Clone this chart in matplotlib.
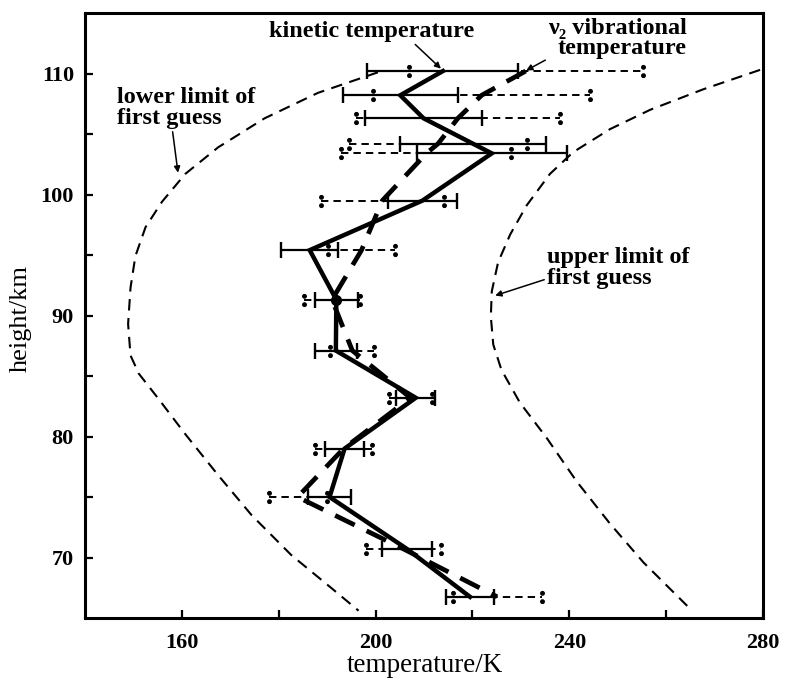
import matplotlib
matplotlib.use("Agg")
import matplotlib.pyplot as plt
from matplotlib.path import Path
import numpy as np

# ---------------- data ----------------
# kinetic temperature profile (height km, temperature K) with error half-widths
kin_h = [110.2, 108.2, 106.3, 104.2, 103.4, 99.5, 95.4, 91.3, 87.1, 83.2, 79.0, 75.0, 70.7, 66.75]
kin_T = [213.9, 205.1, 209.9, 220.1, 224.0, 209.7, 186.4, 191.9, 191.8, 208.3, 193.6, 190.5, 206.5, 219.5]
kin_err = [15.6, 11.85, 12.05, 15.15, 15.5, 7.1, 5.85, 4.45, 4.3, 4.0, 4.0, 4.5, 5.1, 5.0]

# nu2 vibrational temperature profile with error half-widths
vib_h = [110.2, 108.2, 106.3, 104.2, 103.4, 99.5, 95.4, 91.3, 87.1, 83.2, 79.0, 75.0, 70.7, 66.75]
vib_T = [231.0, 221.9, 217.0, 212.9, 210.5, 201.4, 197.1, 191.0, 195.2, 207.2, 193.4, 183.9, 205.8, 225.1]
vib_err = [24.15, 22.4, 21.0, 18.3, 17.55, 12.7, 6.9, 5.85, 4.55, 4.35, 5.85, 6.0, 7.8, 9.2]

# lower limit of first guess
low_h = [110.1, 108.4, 106.3, 103.9, 101.7, 99.4, 97.3, 94.9, 92.3, 89.3, 86.7, 85.2,
         83.1, 80.2, 76.8, 73.5, 70.2, 67.5, 65.6]
low_T = [200.5, 188.1, 177.1, 167.5, 160.7, 155.9, 152.5, 150.4, 149.4, 148.9, 149.4, 151.1,
         155.2, 160.7, 167.5, 174.4, 182.6, 190.8, 196.5]

# upper limit of first guess
up_h = [110.3, 108.7, 107.0, 105.4, 103.5, 101.7, 99.1, 96.7, 94.4, 92.0, 89.9, 87.6,
        85.5, 82.8, 79.9, 76.3, 72.8, 69.6, 65.9]
up_T = [279.4, 267.7, 256.7, 248.4, 240.8, 236.0, 231.2, 227.8, 225.3, 224.0, 223.8, 224.3,
        226.0, 229.8, 235.3, 241.5, 248.4, 255.3, 264.6]

x_major = [160, 200, 240, 280]
x_minor = [180, 220, 260]
y_major = [70, 80, 90, 100, 110]
y_minor = [75, 85, 95, 105]

# ---------------- figure ----------------
SERIF = ["Liberation Serif", "DejaVu Serif"]
plt.rcParams["font.family"] = SERIF

fig = plt.figure(figsize=(7.88, 6.81), dpi=100)
ax = fig.add_axes([85 / 788, 1 - 618 / 681, 678 / 788, 605 / 681])
ax.set_xlim(140, 280)
ax.set_ylim(65, 115)

# colon-shaped marker (two dots)
colon = Path.make_compound_path(Path.circle((0, 1.0), 0.42), Path.circle((0, -1.0), 0.42))

kin_h = np.array(kin_h); kin_T = np.array(kin_T); kin_err = np.array(kin_err)
vib_h = np.array(vib_h); vib_T = np.array(vib_T); vib_err = np.array(vib_err)

# first-guess limit curves
l1, = ax.plot(low_T, low_h, color="black", lw=1.5, zorder=2)
l1.set_dashes((5.5, 3.6))
l2, = ax.plot(up_T, up_h, color="black", lw=1.5, zorder=2)
l2.set_dashes((5.5, 3.6))

# vibrational error bars: dashed with colon ends
for h, t, e in zip(vib_h, vib_T, vib_err):
    ln, = ax.plot([t - e, t + e], [h, h], color="black", lw=1.4, zorder=3)
    ln.set_dashes((3.8, 2.6))
ax.plot(np.concatenate([vib_T - vib_err, vib_T + vib_err]),
        np.concatenate([vib_h, vib_h]), linestyle="none", marker=colon,
        markersize=8.5, color="black", zorder=3)

# kinetic error bars: solid with caps
ax.errorbar(kin_T, kin_h, xerr=kin_err, fmt="none", ecolor="black",
            elinewidth=1.6, capsize=5.5, capthick=1.7, zorder=4)

# profiles
ax.plot(kin_T, kin_h, color="black", lw=3.2, solid_joinstyle="miter", zorder=5)
ax.plot(kin_T[7:8], kin_h[7:8], "o", color="black", markersize=7, zorder=5)
vl, = ax.plot(vib_T, vib_h, color="black", lw=3.4, zorder=5, solid_capstyle="butt")
vl.set_dashes((4.6, 2.8))

# ticks & spines
ax.set_xticks(x_major)
ax.set_xticks(x_minor, minor=True)
ax.set_yticks(y_major)
ax.set_yticks(y_minor, minor=True)
ax.tick_params(which="both", direction="in", length=6, width=1.6, top=False, right=False)
ax.tick_params(axis="x", which="major", pad=11, labelsize=16)
ax.tick_params(axis="y", which="major", pad=8, labelsize=16)
for lab in ax.get_xticklabels() + ax.get_yticklabels():
    lab.set_fontweight("bold")
for sp in ax.spines.values():
    sp.set_linewidth(2.2)

ax.set_xlabel("temperature/K", fontsize=19.5)
ax.xaxis.set_label_coords(0.5015, -0.078)
ax.xaxis.label.set_va("center")
ax.set_ylabel("height/km", fontsize=19)
ax.yaxis.set_label_coords(-0.095, 0.495)
ax.yaxis.label.set_va("center")

# annotations
FS = 17.5
arrow = dict(arrowstyle="-|>", color="black", lw=1.1, mutation_scale=9, shrinkA=0, shrinkB=0)
ax.annotate("kinetic temperature", xy=(213.5, 110.4), xytext=(199.1, 113.5),
            ha="center", va="center", fontsize=FS, fontweight="bold",
            arrowprops=dict(arrow, relpos=(0.7, 0.0)))
ax.annotate("ν₂ vibrational\ntemperature", xy=(231.1, 110.25), xytext=(264.3, 112.9),
            ha="right", va="center", multialignment="right", linespacing=0.9,
            fontsize=FS, fontweight="bold",
            arrowprops=dict(arrow, relpos=(0.0, 0.0)))
ax.annotate("lower limit of\nfirst guess", xy=(159.2, 101.8), xytext=(146.6, 107.15),
            ha="left", va="center", linespacing=1.0, fontsize=FS, fontweight="bold",
            arrowprops=dict(arrow, relpos=(0.4, 0.0)))
ax.annotate("upper limit of\nfirst guess", xy=(224.7, 91.65), xytext=(235.4, 93.9),
            ha="left", va="center", linespacing=1.0, fontsize=FS, fontweight="bold",
            arrowprops=dict(arrow, relpos=(0.0, 0.25)))

fig.savefig("out.png", dpi=100)
